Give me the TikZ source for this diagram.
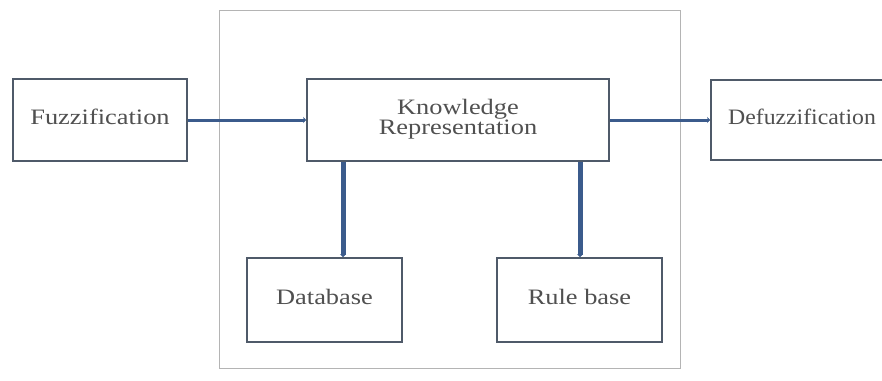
\documentclass[tikz,border=0pt]{standalone}
\usepackage{fontspec}
\setmainfont{Liberation Serif}
\usetikzlibrary{arrows.meta}
\definecolor{boxline}{HTML}{4F5A69}
\definecolor{conn}{HTML}{3B5B8C}
\definecolor{txt}{HTML}{505050}
\definecolor{outer}{HTML}{B4B4B4}
\newcommand{\lbl}[2][1.2]{\scalebox{#1}[1]{\begin{tabular}{@{}c@{}}#2\end{tabular}}}
\tikzset{
  blk/.style={draw=boxline, line width=1.8pt, fill=white, inner sep=0pt,
    text=txt, font=\fontsize{22}{19}\selectfont, align=center},
  link/.style={draw=conn, -{Stealth[length=3pt,width=6pt]}},
}
\begin{document}
\begin{tikzpicture}[x=1pt,y=-1pt]
\useasboundingbox (0,0) rectangle (882,380);
\clip (0,0) rectangle (882,380);
\fill[white] (0,0) rectangle (882,380);
\draw[outer, line width=1pt] (219,10) rectangle (680,368);
\node[blk, minimum width=174pt, minimum height=82pt] (fz) at (100,120) {\lbl{Fuzzification}};
\node[blk, minimum width=302pt, minimum height=82pt] (kr) at (458,120) {\lbl{\strut Knowledge\\Representation}};
\node[blk, minimum width=202pt, minimum height=80pt] (dfz) at (812,120) {\lbl[1.08]{Defuzzification}\hspace{20pt}};
\node[blk, minimum width=155pt, minimum height=84pt] (db) at (324.5,300) {\lbl{Database}};
\node[blk, minimum width=165pt, minimum height=84pt] (rb) at (579.5,300) {\lbl{Rule base}};
\coordinate (v1) at (343,0);
\coordinate (v2) at (580,0);
\draw[link, line width=3pt] (fz.east) -- (kr.west);
\draw[link, line width=3pt] (kr.east) -- (dfz.west);
\draw[link, line width=5pt] (kr.south -| v1) -- (db.north -| v1);
\draw[link, line width=5pt] (kr.south -| v2) -- (rb.north -| v2);
\end{tikzpicture}
\end{document}
